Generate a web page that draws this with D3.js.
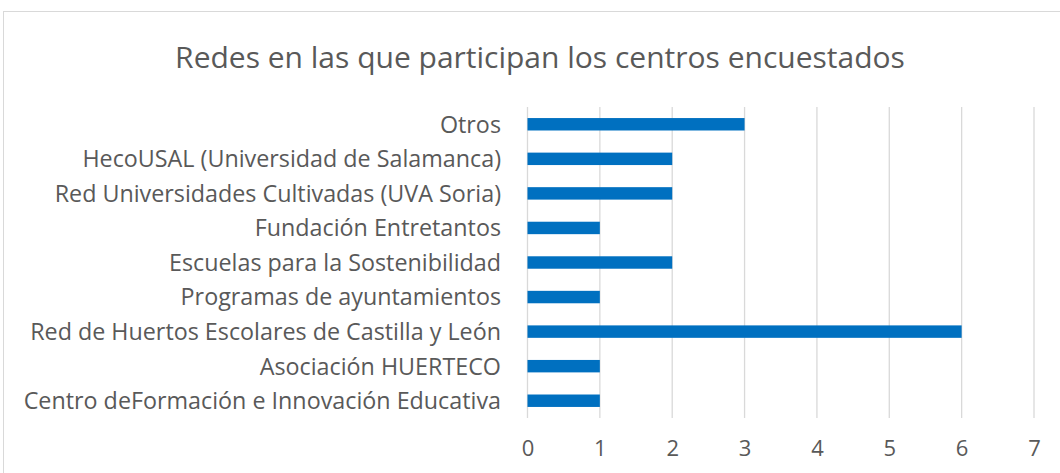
<!DOCTYPE html>
<head>
  <meta charset="utf-8">
  <script src="https://d3js.org/d3.v7.min.js"></script>
  <style>
    * { margin: 0; padding: 0; }
    body { background: #fff; font-family: 'Open Sans', sans-serif; }
    svg { display: block; }
  </style>
</head>
<body>
  <svg id="viz"></svg>
  <script>
    // chart data, top to bottom as drawn
    let categories = [
      "Otros",
      "HecoUSAL (Universidad de Salamanca)",
      "Red Universidades Cultivadas (UVA Soria)",
      "Fundación Entretantos",
      "Escuelas para la Sostenibilidad",
      "Programas de ayuntamientos",
      "Red de Huertos Escolares de Castilla y León",
      "Asociación HUERTECO",
      "Centro deFormación e Innovación Educativa"
    ];
    let values = [3, 2, 2, 1, 2, 1, 6, 1, 1];
    let ticks = [0, 1, 2, 3, 4, 5, 6, 7];
    let title = "Redes en las que participan los centros encuestados";

    let width = 1060, height = 473;
    let svg = d3.select("#viz").attr("width", width).attr("height", height);

    // chart frame
    svg.append("rect")
      .attr("x", 3.5).attr("y", 11.5)
      .attr("width", 1070).attr("height", 480)
      .attr("fill", "#fff")
      .attr("stroke", "#d9d9d9")
      .attr("stroke-width", 1);

    svg.append("text")
      .attr("x", 540).attr("y", 68)
      .attr("text-anchor", "middle")
      .attr("fill", "#595959")
      .style("font-size", "30px")
      .text(title);

    let x = d3.scaleLinear().domain([0, 7]).range([527.5, 1034]);
    let y = d3.scaleBand().domain(categories).range([107, 418]).paddingInner(0.64).paddingOuter(0.32);

    // gridlines
    svg.append("g").selectAll("line")
      .data(ticks)
      .enter().append("line")
      .attr("x1", d => x(d)).attr("x2", d => x(d))
      .attr("y1", 107).attr("y2", 418)
      .attr("stroke", "#d9d9d9")
      .attr("stroke-width", 1.3);

    // bars
    svg.append("g").selectAll("rect")
      .data(values)
      .enter().append("rect")
      .attr("x", x(0))
      .attr("y", (d, i) => y(categories[i]))
      .attr("width", d => x(d) - x(0))
      .attr("height", y.bandwidth())
      .attr("fill", "#0070c0");

    // category labels
    svg.append("g").selectAll("text")
      .data(categories)
      .enter().append("text")
      .attr("x", 501)
      .attr("y", d => y(d) + y.bandwidth() / 2)
      .attr("dy", "0.36em")
      .attr("text-anchor", "end")
      .attr("fill", "#595959")
      .style("font-size", "23.3px")
      .text(d => d);

    // x axis labels
    let xAxis = d3.axisBottom(x).tickValues(ticks).tickFormat(d3.format("d")).tickSize(0).tickPadding(0);
    let gx = svg.append("g").attr("transform", "translate(0,440)").call(xAxis);
    gx.select(".domain").remove();
    gx.selectAll("text")
      .attr("fill", "#595959")
      .style("font-family", "'Open Sans', sans-serif")
      .style("font-size", "22px");
  </script>
</body>
